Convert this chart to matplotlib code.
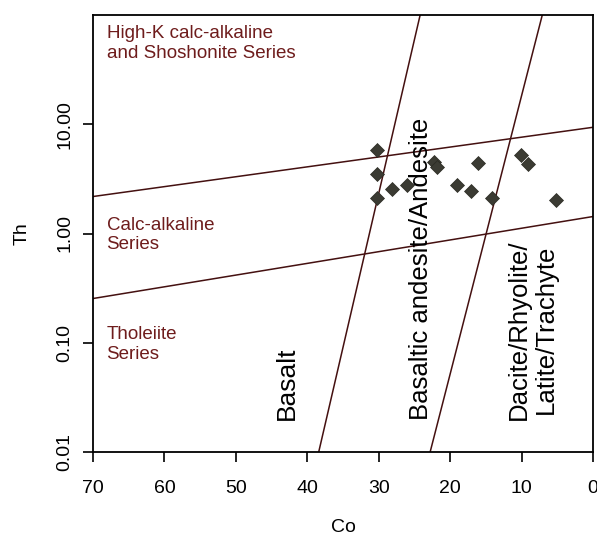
import matplotlib
matplotlib.use("Agg")
import matplotlib.pyplot as plt

plt.rcParams['font.family'] = ['Liberation Sans', 'DejaVu Sans']

# samples (Co, Th)
co = [30.2, 30.2, 30.2, 28.1, 26.1, 22.2, 21.8, 16.1, 19.1, 17.1, 14.1, 10.1, 9.1, 5.2]
th = [5.81, 3.48, 2.13, 2.53, 2.77, 4.55, 4.06, 4.45, 2.77, 2.44, 2.13, 5.20, 4.30, 2.02]

# series boundaries (Co at both ends, Th at both ends)
upper_co, upper_th = [70, 0], [2.18, 9.38]
lower_co, lower_th = [70, 0], [0.254, 1.43]
# rock type boundaries (Co at Th=0.01, Co at Th=100)
basalt_co, basalt_th = [38.4, 24.2], [0.01, 100]
dacite_co, dacite_th = [22.8, 7.1], [0.01, 100]

xticks = [70, 60, 50, 40, 30, 20, 10, 0]
yticks = [0.01, 0.1, 1, 10]
ytick_labels = ['0.01', '0.10', '1.00', '10.00']

line_col = '#441010'
text_col = '#6e1c1c'

fig = plt.figure(figsize=(5.97, 5.38), dpi=100)
ax = fig.add_axes([93 / 597, 1 - 452 / 538, 500 / 597, 437 / 538])

for xs, ys in [(upper_co, upper_th), (lower_co, lower_th),
               (basalt_co, basalt_th), (dacite_co, dacite_th)]:
    ax.plot(xs, ys, color=line_col, lw=1.1)

ax.plot(co, th, 'D', color='#3b3b33', ms=7.4, mec='#2a2a22', mew=0.5)

ax.set_yscale('log')
ax.set_xlim(70, 0)
ax.set_ylim(0.01, 100)
ax.set_xticks(xticks)
ax.set_xticklabels([str(t) for t in xticks])
ax.set_yticks(yticks)
ax.set_yticklabels(ytick_labels)
ax.minorticks_off()
ax.tick_params(axis='both', labelsize=14, length=7, width=1.2, direction='out')
ax.tick_params(axis='x', pad=13)
ax.tick_params(axis='y', pad=7)
for lab in ax.get_yticklabels():
    lab.set_rotation(90)
    lab.set_verticalalignment('center')
for s in ax.spines.values():
    s.set_linewidth(1.3)

ax.set_xlabel('Co', fontsize=14, labelpad=16)
ax.set_ylabel('Th', fontsize=14, labelpad=19)

# series names
ax.text(68.1, 81, 'High-K calc-alkaline\nand Shoshonite Series', color=text_col,
        fontsize=13.5, ha='left', va='top', linespacing=1.2)
ax.text(68.1, 1.43, 'Calc-alkaline\nSeries', color=text_col,
        fontsize=13.5, ha='left', va='top', linespacing=1.2)
ax.text(68.1, 0.141, 'Tholeiite\nSeries', color=text_col,
        fontsize=13.5, ha='left', va='top', linespacing=1.2)

# rock names
ax.text(42.9, 0.0197, 'Basalt', rotation=90, fontsize=19, ha='center', va='bottom')
ax.text(24.1, 0.0197, 'Basaltic andesite/Andesite', rotation=90, fontsize=18.5,
        ha='center', va='bottom')
ax.text(8.5, 0.0197, 'Dacite/Rhyolite/\nLatite/Trachyte', rotation=90, fontsize=18.5,
        ha='center', va='bottom', linespacing=1.15)

fig.savefig('out.png', dpi=100)
